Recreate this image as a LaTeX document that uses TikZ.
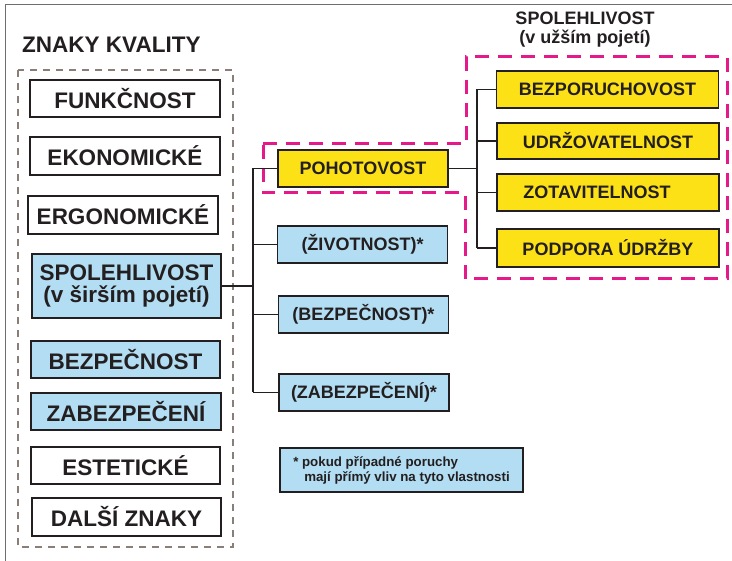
\documentclass[tikz,border=0pt]{standalone}
\usepackage{fontspec}
\setmainfont{Liberation Sans}
\definecolor{txt}{HTML}{231F20}
\definecolor{lblue}{HTML}{B2DDF2}
\definecolor{yel}{HTML}{FCE117}
\definecolor{pink}{HTML}{E6198A}
\definecolor{dgray}{HTML}{8B7D78}
\definecolor{frame}{HTML}{6E6E6E}
\tikzset{
  box/.style={draw=txt, line width=1.6pt, text=txt, inner sep=0pt, anchor=center, align=center},
  lbox/.style={box, font=\fontsize{22.5}{22}\selectfont\bfseries},
  mbox/.style={box, font=\fontsize{18}{19}\selectfont\bfseries, minimum width=170pt, minimum height=37pt},
  rbox/.style={box, fill=yel, font=\fontsize{18}{19}\selectfont\bfseries, minimum width=222pt, minimum height=37pt},
  conn/.style={draw=txt, line width=1.3pt},
}
\begin{document}
\begin{tikzpicture}[x=1pt,y=-1pt]
\useasboundingbox (0,0) rectangle (732,561);
% outer frame (top and left visible)
\draw[frame, line width=1pt] (5,561) -- (5,5) -- (732,5);

% titles
\node[anchor=base west, inner sep=0pt, text=txt, font=\fontsize{22.5}{22}\selectfont\bfseries] (t1) at (22,53) {ZNAKY KVALITY};
\node[anchor=north, inner sep=0pt, text=txt, align=center, font=\fontsize{18}{19}\selectfont\bfseries] (t2) at (585,12) {SPOLEHLIVOST\\(v užším pojetí)};

% dashed gray group
\draw[dgray, line width=1.4pt, dash pattern=on 7pt off 6pt] (18,70) rectangle (233,547);

% left column
\node[lbox, minimum width=190pt, minimum height=37pt] (f) at (125,98.5) {FUNKČNOST};
\node[lbox, minimum width=190pt, minimum height=38pt] (e) at (125,156) {EKONOMICKÉ};
\node[lbox, minimum width=190pt, minimum height=38pt] (er) at (123,215) {ERGONOMICKÉ};
\node[lbox, fill=lblue, minimum width=189pt, minimum height=64pt] (sp) at (126.5,286) {SPOLEHLIVOST\\(v širším pojetí)};
\node[lbox, fill=lblue, minimum width=189pt, minimum height=37pt] (bz) at (125.5,359.5) {BEZPEČNOST};
\node[lbox, fill=lblue, minimum width=190pt, minimum height=37pt] (zb) at (126,411.5) {ZABEZPEČENÍ};
\node[lbox, minimum width=189pt, minimum height=37pt] (es) at (125.5,465.5) {ESTETICKÉ};
\node[lbox, minimum width=189pt, minimum height=38pt] (dz) at (126.5,517) {DALŠÍ ZNAKY};

% pink dashed outline
\draw[pink, line width=3pt, dash pattern=on 14pt off 9pt]
  (263,144) -- (466,144) -- (466,57) -- (727,57) -- (727,279) -- (465,279) -- (465,193) -- (263,193) -- cycle;

% middle column
\node[mbox, fill=yel] (po) at (363,168.5) {POHOTOVOST};
\node[mbox, fill=lblue] (zi) at (362.5,244.5) {(ŽIVOTNOST)*};
\node[mbox, fill=lblue] (bn) at (363.5,314.5) {(BEZPEČNOST)*};
\node[mbox, fill=lblue] (zn) at (364,392.5) {(ZABEZPEČENÍ)*};
\node[box, fill=lblue, minimum width=243pt, minimum height=44pt, align=left,
      font=\fontsize{13.3}{15}\selectfont\bfseries] (note) at (401.5,470)
  {* pokud případné poruchy\\\hspace*{11pt}mají přímý vliv na tyto vlastnosti};

% right column
\node[rbox] (bp) at (607.5,89.5) {BEZPORUCHOVOST};
\node[rbox, minimum height=36pt] (ud) at (608,141) {UDRŽOVATELNOST};
\node[rbox] (zt) at (608,192.5) {ZOTAVITELNOST\hspace*{22pt}};
\node[rbox, minimum height=38pt] (pu) at (608,248) {PODPORA ÚDRŽBY};

% left tree
\coordinate (ta) at (253,168.5);
\coordinate (tb) at (253,392.5);
\draw[conn] (ta) -- (tb);
\draw[conn] (sp.east) -- (sp.east -| ta);
\draw[conn] (ta) -- (po.west);
\draw[conn] (zi.west -| ta) -- (zi.west);
\draw[conn] (bn.west -| ta) -- (bn.west);
\draw[conn] (tb) -- (zn.west);

% right tree
\coordinate (ra) at (477,89.5);
\coordinate (rb) at (477,248);
\draw[conn] (ra) -- (rb);
\draw[conn] (po.east) -- (po.east -| ra);
\draw[conn] (ra) -- (bp.west);
\draw[conn] (ud.west -| ra) -- (ud.west);
\draw[conn] (zt.west -| ra) -- (zt.west);
\draw[conn] (rb) -- (pu.west);
\end{tikzpicture}
\end{document}
